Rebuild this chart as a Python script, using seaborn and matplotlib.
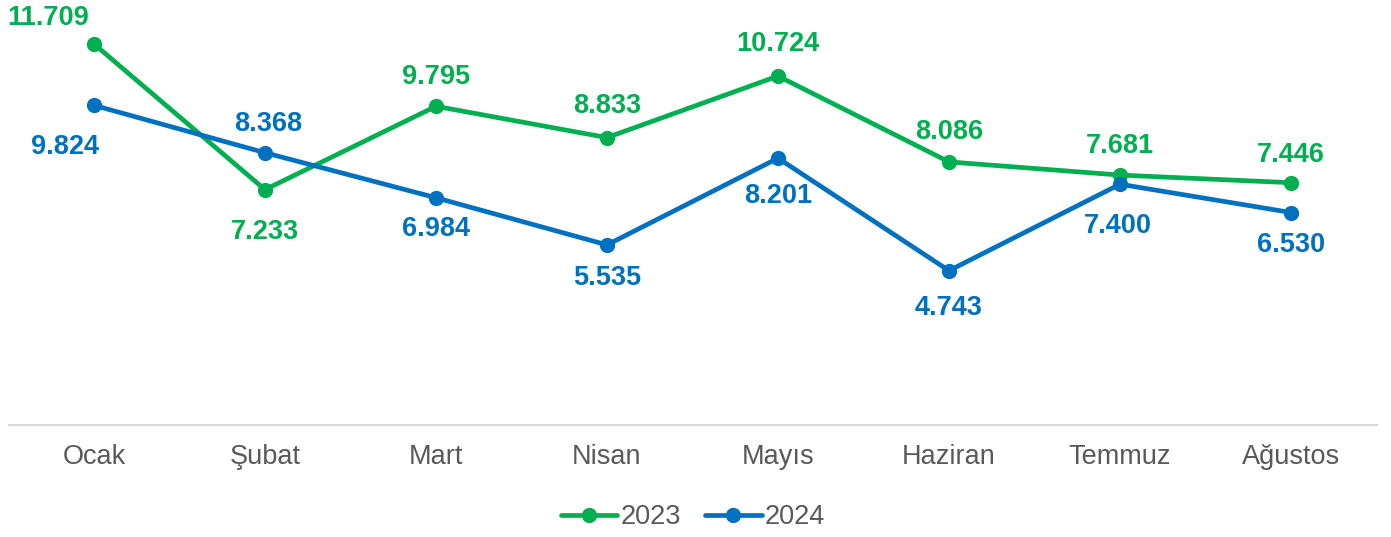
import pandas as pd
import matplotlib.pyplot as plt
import seaborn as sns

months = ["Ocak", "Şubat", "Mart", "Nisan", "Mayıs", "Haziran", "Temmuz", "Ağustos"]
values_2023 = [11.709, 7.233, 9.795, 8.833, 10.724, 8.086, 7.681, 7.446]
values_2024 = [9.824, 8.368, 6.984, 5.535, 8.201, 4.743, 7.400, 6.530]
labels_2023 = ["11.709", "7.233", "9.795", "8.833", "10.724", "8.086", "7.681", "7.446"]
labels_2024 = ["9.824", "8.368", "6.984", "5.535", "8.201", "4.743", "7.400", "6.530"]

green = "#00B050"
blue = "#0070C0"

df = pd.DataFrame({
    "idx": list(range(len(months))) * 2,
    "value": values_2023 + values_2024,
    "year": ["2023"] * len(months) + ["2024"] * len(months),
})

sns.set_theme(style="white")
plt.rcParams["font.family"] = ["Liberation Sans", "DejaVu Sans"]

fs = 19.5

fig = plt.figure(figsize=(13.91, 5.37), dpi=100)
ax = fig.add_axes([8.5 / 1391, 112 / 537, 1368 / 1391, 423 / 537])

sns.lineplot(data=df, x="idx", y="value", hue="year", palette=[green, blue],
             marker="o", markersize=11, markeredgewidth=0, linewidth=3.4,
             ax=ax, legend=False)

ax.set_xlim(-0.5, len(months) - 0.5)
ax.set_ylim(0, 13)
ax.set_xticks(range(len(months)))
ax.set_xticklabels(months, fontsize=fs, color="#595959")
ax.set_yticks([])
ax.set_xlabel("")
ax.set_ylabel("")
ax.tick_params(axis="x", length=0, pad=14)
for s in ["top", "left", "right"]:
    ax.spines[s].set_visible(False)
ax.spines["bottom"].set_color("#D9D9D9")
ax.spines["bottom"].set_linewidth(1.5)

# label offsets in pixels (dx, dy)
off_2023 = [(-46, 26), (0, -42), (0, 29), (0, 32), (0, 32), (0, 30), (0, 29), (0, 28)]
off_2024 = [(-29, -42), (3, 29), (0, -31), (0, -33), (0, -38), (0, -37), (-2, -42), (0, -32)]

for i in range(len(months)):
    ax.annotate(labels_2023[i], (i, values_2023[i]), xytext=off_2023[i],
                textcoords="offset pixels", ha="center", va="center",
                fontsize=fs, fontweight="bold", color=green, annotation_clip=False)
    ax.annotate(labels_2024[i], (i, values_2024[i]), xytext=off_2024[i],
                textcoords="offset pixels", ha="center", va="center",
                fontsize=fs, fontweight="bold", color=blue, annotation_clip=False)

handles = [
    plt.Line2D([], [], color=green, marker="o", markersize=11, linewidth=3.4, markeredgewidth=0),
    plt.Line2D([], [], color=blue, marker="o", markersize=11, linewidth=3.4, markeredgewidth=0),
]
leg = fig.legend(handles, ["2023", "2024"], loc="center", bbox_to_anchor=(0.498, 1 - 517 / 537),
                 ncol=2, frameon=False, fontsize=fs, handlelength=2.1, handletextpad=0.1,
                 columnspacing=0.9)
for t in leg.get_texts():
    t.set_color("#595959")

fig.savefig("out.png", dpi=100)
